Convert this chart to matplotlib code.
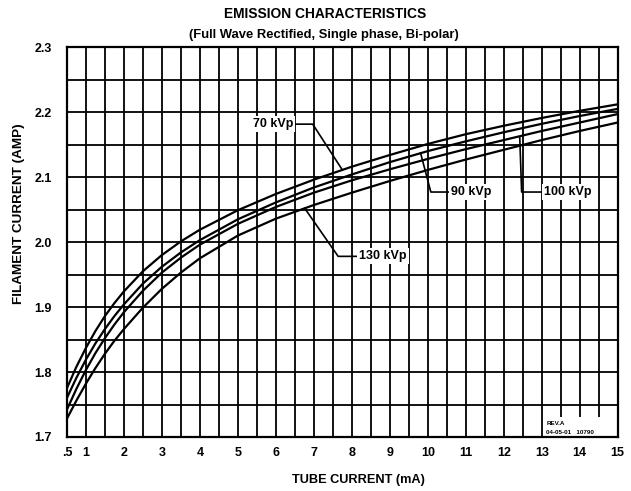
import matplotlib
matplotlib.use("Agg")
import matplotlib.pyplot as plt
import numpy as np

plt.rcParams['font.family'] = ['Liberation Sans', 'DejaVu Sans']
plt.rcParams['font.weight'] = 'bold'

# tube current (mA)
tube_ma = [0.5, 0.75, 1, 1.25, 1.5, 1.75, 2, 2.5, 3, 3.5, 4, 5, 6, 7, 8, 9, 10, 11, 12, 13, 14, 15]

# filament current (A)
kvp70 = [1.775, 1.808, 1.837, 1.863, 1.886, 1.906, 1.924, 1.955, 1.980, 2.001, 2.019, 2.049,
         2.074, 2.096, 2.116, 2.134, 2.151, 2.166, 2.179, 2.191, 2.202, 2.212]
kvp90 = [1.760, 1.791, 1.819, 1.844, 1.866, 1.886, 1.904, 1.936, 1.962, 1.984, 2.003, 2.035,
         2.061, 2.084, 2.104, 2.123, 2.140, 2.155, 2.169, 2.182, 2.194, 2.205]
kvp100 = [1.742, 1.774, 1.803, 1.829, 1.852, 1.873, 1.892, 1.925, 1.953, 1.976, 1.996, 2.028,
          2.054, 2.076, 2.095, 2.112, 2.128, 2.143, 2.157, 2.171, 2.184, 2.197]
kvp130 = [1.728, 1.756, 1.782, 1.806, 1.828, 1.848, 1.866, 1.899, 1.928, 1.953, 1.975, 2.010,
          2.036, 2.057, 2.076, 2.094, 2.111, 2.127, 2.142, 2.157, 2.171, 2.184]

xtick_vals = [0.5] + list(range(1, 16))
xtick_labels = ['.5'] + [str(i) for i in range(1, 16)]
ytick_vals = [1.7, 1.8, 1.9, 2.0, 2.1, 2.2, 2.3]

fig = plt.figure(figsize=(6.31, 4.91), dpi=100)
ax = fig.add_axes([0.106, 0.110, 0.873, 0.794])

for ys in (kvp70, kvp90, kvp100, kvp130):
    ax.plot(tube_ma, ys, color='black', lw=1.6, zorder=3)

ax.set_xlim(0.5, 15)
ax.set_ylim(1.7, 2.3)
ax.set_xticks(xtick_vals)
ax.set_xticklabels(xtick_labels)
ax.set_yticks(ytick_vals)
ax.set_yticklabels(['%.1f' % v for v in ytick_vals])
ax.set_xticks(np.arange(0.5, 15.01, 0.5), minor=True)
ax.set_yticks(np.arange(1.7, 2.301, 0.05), minor=True)
ax.tick_params(which='both', length=0, labelsize=9)
ax.tick_params(axis='x', pad=7)
ax.tick_params(axis='y', pad=11)
ax.set_axisbelow(True)
ax.grid(which='both', color='black', lw=1.3)
for s in ax.spines.values():
    s.set_linewidth(1.6)

# revision box in the corner
ax.add_patch(plt.Rectangle((13.03, 1.7), 1.97, 0.031, facecolor='white', edgecolor='none', zorder=2))
ax.text(13.12, 1.7215, 'REV.A', fontsize=4.5, va='center', zorder=4)
ax.text(13.12, 1.7065, '04-05-01   10790', fontsize=4.5, va='center', zorder=4)

# curve labels with leader lines
box = dict(facecolor='white', edgecolor='none', pad=1.5)
ax.plot([6.53, 6.97, 7.74], [2.1815, 2.1815, 2.112], color='black', lw=1.2, zorder=3)
ax.text(6.45, 2.1815, '70 kVp', fontsize=9, ha='right', va='center', bbox=box, zorder=4)
ax.plot([9.81, 10.08, 10.55], [2.137, 2.077, 2.077], color='black', lw=1.2, zorder=3)
ax.text(10.62, 2.077, '90 kVp', fontsize=9, ha='left', va='center', bbox=box, zorder=4)
ax.plot([12.42, 12.47, 13.0], [2.162, 2.077, 2.077], color='black', lw=1.2, zorder=3)
ax.text(13.07, 2.077, '100 kVp', fontsize=9, ha='left', va='center', bbox=box, zorder=4)
ax.plot([6.76, 7.64, 8.12], [2.052, 1.978, 1.978], color='black', lw=1.2, zorder=3)
ax.text(8.2, 1.978, '130 kVp', fontsize=9, ha='left', va='center', bbox=box, zorder=4)

fig.text(0.515, 0.972, 'EMISSION CHARACTERISTICS', ha='center', va='center', fontsize=9.9)
fig.text(0.514, 0.929, '(Full Wave Rectified, Single phase, Bi-polar)', ha='center', va='center', fontsize=9.4)
fig.text(0.568, 0.022, 'TUBE CURRENT (mA)', ha='center', va='center', fontsize=9.2)
fig.text(0.030, 0.565, 'FILAMENT CURRENT (AMP)', ha='center', va='center', rotation=90, fontsize=9.7)

fig.savefig('out.png', dpi=100)
